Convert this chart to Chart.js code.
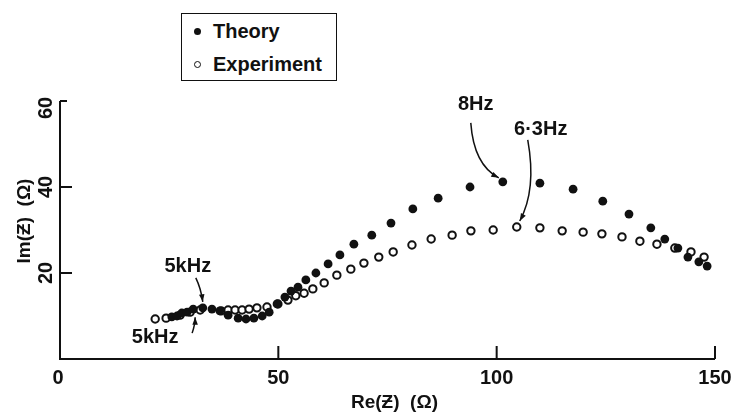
<!DOCTYPE html>
<html>
<head>
<meta charset="utf-8">
<script src="https://cdn.jsdelivr.net/npm/chart.js@4.4.1/dist/chart.umd.min.js"></script>
<style>
  body { margin: 0; background: #fff; }
  #wrap { position: relative; width: 731px; height: 412px; }
  #legend {
    position: absolute; left: 181px; top: 13px; width: 154px; height: 66px;
    border: 1.5px solid #111; background: #fff;
    font: bold 20px "Liberation Sans", Arial, sans-serif; color: #111;
  }
  #legend div { position: absolute; left: 31px; }
  #legend span { position: absolute; left: -19px; width: 7px; height: 7px; border-radius: 50%; box-sizing: border-box; }
</style>
</head>
<body>
<div id="wrap">
  <canvas id="nyquist" width="731" height="412"></canvas>
  <div id="legend">
    <div style="top:6px">Theory<span style="top:8px;background:#111"></span></div>
    <div style="top:39px">Experiment<span style="top:8px;border:1.5px solid #111"></span></div>
  </div>
</div>
<script>
// impedance data, Re(Z) / Im(Z) in ohms
var theoryRe = [25.6, 26.8, 27.9, 29.1, 30.5, 32.7, 34.8, 36.6, 38.5, 40.8, 42.6, 44.4, 46.3, 47.9,
                49.7, 51.5, 52.9, 54.5, 56.3, 58.6, 61.4, 64.1, 67.3, 71.4, 75.8, 80.8, 86.6, 93.9,
                101.4, 109.9, 117.5, 124.3, 130.3, 135.3, 138.5, 141.5, 143.8, 146.3, 148.2];
var theoryIm = [9.8, 10.0, 10.7, 10.9, 11.6, 11.9, 11.6, 11.2, 10.2, 9.5, 9.3, 9.5, 10.0, 10.9,
                12.8, 14.4, 15.8, 16.7, 18.4, 20.0, 22.1, 24.2, 26.7, 28.8, 31.6, 34.9, 37.4, 40.0,
                41.2, 40.9, 39.5, 36.7, 33.7, 30.5, 27.9, 25.8, 23.7, 22.6, 21.6];

var exptRe = [21.8, 24.3, 27.5, 29.8, 32.1, 36.9, 38.5, 40.1, 41.7, 43.3, 45.1, 47.4, 49.9,
              52.2, 54.0, 55.9, 57.9, 60.5, 63.4, 66.6, 69.6, 73.0, 76.3, 80.6, 85.0, 89.8, 94.1,
              99.2, 104.6, 109.9, 115.0, 119.8, 124.1, 128.7, 132.8, 136.7, 140.8, 144.5, 147.5];
var exptIm = [9.3, 9.5, 10.2, 10.9, 11.4, 11.2, 11.4, 11.4, 11.4, 11.6, 11.9, 12.1, 12.8,
              13.7, 14.7, 15.3, 16.3, 17.7, 19.5, 20.9, 22.3, 23.7, 24.9, 26.5, 27.9, 28.8, 29.8,
              30.0, 30.7, 30.5, 29.8, 29.5, 29.1, 28.4, 27.4, 26.7, 25.8, 24.9, 23.7];

var xTicks = [0, 50, 100, 150];
var yTicks = [20, 40, 60];

// frequency labels: which series/index they point to, plus label/arrow offsets in px
var notes = [
  { text: '8Hz',   set: 't', idx: 28, label: [-27, -77], start: [-32, -59], ctrl: [-29, -17], end: [-4, -4] },
  { text: '6\u00b73Hz', set: 'e', idx: 28, label: [24, -98], start: [11, -87], ctrl: [20, -37], end: [3, -6] },
  { text: '5kHz',  set: 't', idx: 5,  label: [-15, -41], start: [-7, -30], ctrl: [-2, -20], end: [0, -6] },
  { text: '5kHz',  set: 'e', idx: 3,  label: [-35, 25],  start: [2, 21],   ctrl: [5, 12],   end: [5, 5] }
];

function pts(xs, ys) {
  var out = [];
  for (var i = 0; i < xs.length; i++) out.push({ x: xs[i], y: ys[i] });
  return out;
}

var FONT = '"Liberation Sans", Arial, sans-serif';

function arrowHead(ctx, x, y, fromX, fromY) {
  var a = Math.atan2(y - fromY, x - fromX);
  var len = 8, w = 0.35;
  ctx.beginPath();
  ctx.moveTo(x, y);
  ctx.lineTo(x - len * Math.cos(a - w), y - len * Math.sin(a - w));
  ctx.lineTo(x - len * Math.cos(a + w), y - len * Math.sin(a + w));
  ctx.closePath();
  ctx.fill();
}

var axesPlugin = {
  id: 'axesPlugin',
  afterDraw: function (chart) {
    var ctx = chart.ctx;
    var xs = chart.scales.x, ys = chart.scales.y;
    var area = chart.chartArea;
    ctx.save();
    ctx.strokeStyle = '#111';
    ctx.fillStyle = '#111';
    ctx.lineWidth = 2;

    // axis lines
    ctx.beginPath();
    ctx.moveTo(area.left, ys.getPixelForValue(60));
    ctx.lineTo(area.left, area.bottom);
    ctx.lineTo(area.right, area.bottom);
    ctx.stroke();

    // inward ticks
    ctx.beginPath();
    xTicks.forEach(function (v) {
      if (v === 0) return;
      var px = xs.getPixelForValue(v);
      ctx.moveTo(px, area.bottom);
      ctx.lineTo(px, area.bottom - 13);
    });
    yTicks.forEach(function (v) {
      var py = ys.getPixelForValue(v);
      ctx.moveTo(area.left, py);
      ctx.lineTo(area.left + (v === 60 ? 7 : 12), py);
    });
    ctx.stroke();

    // tick labels
    ctx.font = 'bold 20px ' + FONT;
    ctx.textAlign = 'center';
    ctx.textBaseline = 'middle';
    xTicks.forEach(function (v) {
      ctx.fillText(String(v), xs.getPixelForValue(v) - (v === 0 ? 2 : 0), area.bottom + 19);
    });
    yTicks.forEach(function (v) {
      ctx.save();
      ctx.translate(area.left - 14, ys.getPixelForValue(v) + (v === 60 ? 7 : 0));
      ctx.rotate(-Math.PI / 2);
      ctx.fillText(String(v), 0, 0);
      ctx.restore();
    });

    // axis titles
    ctx.font = 'bold 19px ' + FONT;
    ctx.fillText('Re(\u01b5)  (\u03a9)', (area.left + area.right) / 2 + 7, area.bottom + 44);
    ctx.save();
    ctx.translate(25, (area.top + area.bottom) / 2 - 9);
    ctx.rotate(-Math.PI / 2);
    ctx.fillText('Im(\u01b5)  (\u03a9)', 0, 0);
    ctx.restore();

    // frequency annotations
    ctx.font = 'bold 20px ' + FONT;
    ctx.lineWidth = 1.5;
    notes.forEach(function (n) {
      var dx = n.set === 't' ? theoryRe[n.idx] : exptRe[n.idx];
      var dy = n.set === 't' ? theoryIm[n.idx] : exptIm[n.idx];
      var px = xs.getPixelForValue(dx), py = ys.getPixelForValue(dy);
      ctx.fillText(n.text, px + n.label[0], py + n.label[1]);
      var sx = px + n.start[0], sy = py + n.start[1];
      var cx = px + n.ctrl[0], cy = py + n.ctrl[1];
      var ex = px + n.end[0], ey = py + n.end[1];
      ctx.beginPath();
      ctx.moveTo(sx, sy);
      ctx.quadraticCurveTo(cx, cy, ex, ey);
      ctx.stroke();
      arrowHead(ctx, ex, ey, cx, cy);
    });
    ctx.restore();
  }
};

var ctx = document.getElementById('nyquist').getContext('2d');
var chart = new Chart(ctx, {
  type: 'scatter',
  data: {
    datasets: [{
      label: 'Theory',
      data: pts(theoryRe, theoryIm),
      pointRadius: 4.4,
      backgroundColor: '#111',
      borderColor: '#111',
      borderWidth: 0,
      order: 0
    }, {
      label: 'Experiment',
      data: pts(exptRe, exptIm),
      pointRadius: 3.7,
      backgroundColor: '#fff',
      borderColor: '#111',
      borderWidth: 2,
      order: 1
    }]
  },
  options: {
    responsive: false,
    animation: false,
    devicePixelRatio: 1,
    layout: { padding: { left: 60, top: 101, right: 16, bottom: 53 } },
    scales: {
      x: { type: 'linear', min: 0, max: 150, display: false },
      y: { type: 'linear', min: 0, max: 60, display: false }
    },
    plugins: {
      legend: { display: false },
      tooltip: { enabled: false }
    },
    clip: false
  },
  plugins: [axesPlugin]
});
</script>
</body>
</html>
